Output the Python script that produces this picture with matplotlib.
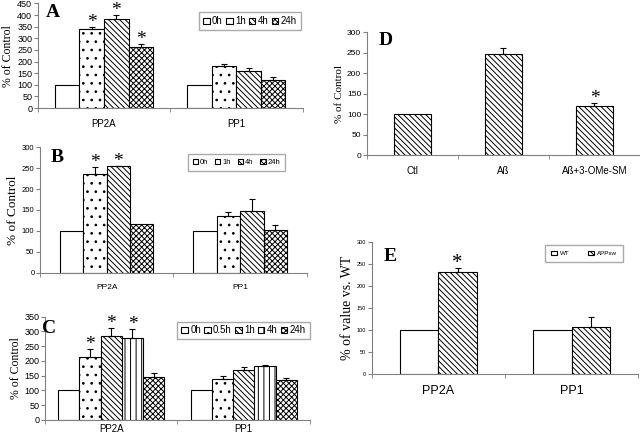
import matplotlib
matplotlib.use('Agg')
import matplotlib.pyplot as plt
import numpy as np

plt.rcParams['font.family'] = ['Liberation Sans', 'DejaVu Sans']
plt.rcParams['hatch.linewidth'] = 0.7

groups = ['PP2A', 'PP1']

# panel A
a_labels = ['0h', '1h', '4h', '24h']
a_vals = [[100, 340, 385, 262], [100, 180, 158, 122]]
a_err = [[0, 8, 15, 15], [0, 8, 12, 12]]
a_star = [[0, 1, 1, 1], [0, 0, 0, 0]]

# panel B
b_labels = ['0h', '1h', '4h', '24h']
b_vals = [[100, 235, 255, 117], [100, 135, 147, 102]]
b_err = [[0, 17, 1, 0], [0, 10, 30, 12]]
b_star = [[0, 1, 1, 0], [0, 0, 0, 0]]

# panel C
c_labels = ['0h', '0.5h', '1h', '4h', '24h']
c_vals = [[100, 215, 285, 278, 147], [100, 140, 170, 183, 137]]
c_err = [[0, 25, 28, 30, 12], [0, 10, 10, 3, 7]]
c_star = [[0, 1, 1, 1, 0], [0, 0, 0, 0, 0]]

# panel D
d_cats = ['Ctl', 'Aß', 'Aß+3-OMe-SM']
d_vals = [100, 248, 120]
d_err = [0, 13, 8]
d_star = [0, 0, 1]

# panel E
e_labels = ['WT', 'APPsw']
e_vals = [[100, 232], [100, 107]]
e_err = [[0, 10], [0, 22]]
e_star = [[0, 1], [0, 0]]

diag = '\\' * 6
hatch4 = ['', '..', diag, 'xxxxxx']
hatch5 = ['', '..', diag, '|||', 'xxxxxx']

serif = ['Liberation Serif', 'DejaVu Serif']


def style_axis(ax, ncat, ymax, step, tick_fs, ylabel, ylab_fs, xpad=8):
    ax.set_xlim(0, ncat)
    ax.set_ylim(0, ymax)
    ax.set_yticks(np.arange(0, ymax + 1, step))
    ax.spines['top'].set_visible(False)
    ax.spines['right'].set_visible(False)
    ax.spines['left'].set_color('#808080')
    ax.spines['bottom'].set_color('#808080')
    ax.tick_params(axis='y', labelsize=tick_fs, color='#808080', length=3, pad=1)
    ax.set_xticks(np.arange(ncat) + 0.5)
    ax.set_xticks(np.arange(ncat + 1), minor=True)
    ax.tick_params(axis='x', which='major', length=0, pad=xpad)
    ax.tick_params(axis='x', which='minor', length=3, color='#808080')
    ax.set_ylabel(ylabel, family=serif, fontsize=ylab_fs, labelpad=2)


def star(ax, x, y, fs):
    ax.text(x, y, '*', ha='center', va='baseline', fontsize=fs, family=serif)


def grouped(ax, vals, errs, stars, labels, hatches, width, star_fs):
    n = len(labels)
    for j in range(n):
        xs = np.arange(len(groups)) + 0.5 + (j - (n - 1) / 2) * width
        hs = [v[j] for v in vals]
        es = [e[j] for e in errs]
        ax.bar(xs, hs, width, color='white', edgecolor='black', linewidth=0.8,
               hatch=hatches[j], label=labels[j], zorder=2)
        for k in range(len(groups)):
            if es[k] > 0:
                ax.errorbar(xs[k], hs[k], yerr=[[0], [es[k]]], color='black',
                            capsize=2, elinewidth=0.8, capthick=0.8, zorder=3)
            if stars[k][j]:
                star(ax, xs[k], hs[k] + es[k], star_fs)


def legend(ax, anchor, ncol, fs, colsp, pad):
    ax.legend(loc='upper left', bbox_to_anchor=anchor, ncol=ncol, fontsize=fs,
              handlelength=0.7, handleheight=0.7, handletextpad=0.25,
              columnspacing=colsp, borderpad=pad, fancybox=False,
              edgecolor='#aaaaaa', framealpha=1)


fig = plt.figure(figsize=(6.4, 4.38), dpi=100)

# A
axA = fig.add_axes([0.059, 0.7534, 0.414, 0.2388])
grouped(axA, a_vals, a_err, a_star, a_labels, hatch4, 0.185, 14)
style_axis(axA, 2, 450, 50, 6.5, '% of Control', 8.5)
axA.set_xticklabels(groups, fontsize=7)
axA.text(0.03, 0.99, 'A', transform=axA.transAxes, family=serif,
         fontweight='bold', fontsize=14, va='top')
legend(axA, (0.59, 0.96), 4, 7, 0.3, 0.4)

# B
axB = fig.add_axes([0.0625, 0.3774, 0.417, 0.2863])
grouped(axB, b_vals, b_err, b_star, b_labels, hatch4, 0.175, 14)
style_axis(axB, 2, 300, 50, 5.5, '% of Control', 9.5)
axB.set_xticklabels(groups, fontsize=6)
axB.text(0.04, 0.99, 'B', transform=axB.transAxes, family=serif,
         fontweight='bold', fontsize=14, va='top')
legend(axB, (0.54, 0.975), 4, 5.5, 0.9, 0.6)

# C
axC = fig.add_axes([0.0703, 0.0411, 0.414, 0.2358])
grouped(axC, c_vals, c_err, c_star, c_labels, hatch5, 0.16, 14)
style_axis(axC, 2, 350, 50, 6.5, '% of Control', 8.5, xpad=3)
axC.set_xticklabels(groups, fontsize=7)
axC.text(-0.01, 0.97, 'C', transform=axC.transAxes, family=serif,
         fontweight='bold', fontsize=14, va='top')
legend(axC, (0.48, 1.0), 5, 7, 0.3, 0.4)

# D
axD = fig.add_axes([0.573, 0.6454, 0.427, 0.2808])
xd = np.arange(len(d_cats)) + 0.5
axD.bar(xd, d_vals, 0.41, color='white', edgecolor='black', linewidth=0.8,
        hatch=diag, zorder=2)
for x, v, e, s in zip(xd, d_vals, d_err, d_star):
    if e > 0:
        axD.errorbar(x, v, yerr=[[0], [e]], color='black', capsize=2,
                     elinewidth=0.8, capthick=0.8, zorder=3)
    if s:
        star(axD, x, v + e, 14)
style_axis(axD, 3, 300, 50, 6, '% of Control', 8)
axD.set_xticklabels(d_cats, fontsize=7)
axD.text(0.045, 1.0, 'D', transform=axD.transAxes, family=serif,
         fontweight='bold', fontsize=14, va='top')

# E
axE = fig.add_axes([0.581, 0.1461, 0.416, 0.3007])
grouped(axE, e_vals, e_err, e_star, e_labels, ['', diag], 0.29, 15)
style_axis(axE, 2, 300, 50, 4, '% of value vs. WT', 10)
axE.set_xticklabels(groups, fontsize=9)
axE.text(0.045, 0.96, 'E', transform=axE.transAxes, family=serif,
         fontweight='bold', fontsize=14, va='top')
axE.legend(loc='upper left', bbox_to_anchor=(0.64, 1.0), ncol=2, fontsize=4.5,
           handlelength=1.0, handleheight=0.7, handletextpad=0.4,
           columnspacing=3.0, borderpad=0.9, fancybox=False,
           edgecolor='#aaaaaa', framealpha=1)

fig.savefig('out.png', dpi=100)
